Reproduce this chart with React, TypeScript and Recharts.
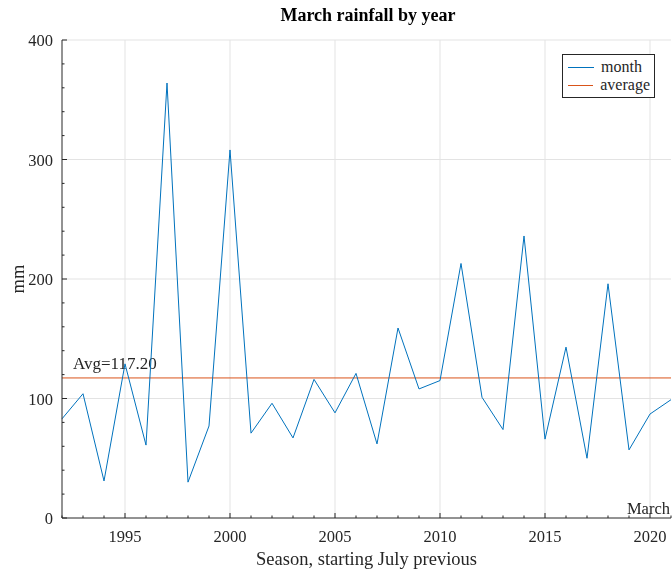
import React from "react";
import {
  LineChart, Line, XAxis, YAxis, CartesianGrid, ReferenceLine, Label,
} from "recharts";

const BLUE = "#0072BD";
const ORANGE = "#D95319";
const INK = "#262626";
const FONT = "'Liberation Serif', 'Times New Roman', serif";

const YEARS = [
  1992, 1993, 1994, 1995, 1996, 1997, 1998, 1999, 2000, 2001,
  2002, 2003, 2004, 2005, 2006, 2007, 2008, 2009, 2010, 2011,
  2012, 2013, 2014, 2015, 2016, 2017, 2018, 2019, 2020, 2021,
];
const RAINFALL = [
  83, 104, 31, 129, 61, 364, 30, 77, 308, 71,
  96, 67, 116, 88, 121, 62, 159, 108, 115, 213,
  101, 74, 236, 66, 143, 50, 196, 57, 87, 99,
];
const AVERAGE = 117.2;
const X_TICKS = YEARS;
const Y_TICKS = [0, 20, 40, 60, 80, 100, 120, 140, 160, 180, 200, 220, 240, 260, 280, 300, 320, 340, 360, 380, 400];
const X_GRID = [1995, 2000, 2005, 2010, 2015, 2020];
const Y_GRID = [100, 200, 300, 400];

const data = YEARS.map((year, i) => ({ year, month: RAINFALL[i], average: AVERAGE }));

function XTick({ x, y, payload, side }: any) {
  const major = payload.value % 5 === 0;
  const len = major ? 5 : 2.5;
  const dir = side === "top" ? 1 : -1;
  return (
    <g>
      <line x1={x} y1={y} x2={x} y2={y + dir * len} stroke={INK} strokeWidth={1} />
      {side === "bottom" && major && (
        <text x={x} y={y + 24} textAnchor="middle" fill={INK} fontSize={16.5} fontFamily={FONT}>
          {payload.value}
        </text>
      )}
    </g>
  );
}

function YTick({ x, y, payload, side }: any) {
  const major = payload.value % 100 === 0;
  const len = major ? 5 : 2.5;
  const dir = side === "left" ? 1 : -1;
  return (
    <g>
      <line x1={x} y1={y} x2={x + dir * len} y2={y} stroke={INK} strokeWidth={1} />
      {side === "left" && major && (
        <text x={x - 9} y={y + 6} textAnchor="end" fill={INK} fontSize={16.5} fontFamily={FONT}>
          {payload.value}
        </text>
      )}
    </g>
  );
}

function LegendBox() {
  const row = (color: string, label: string) => (
    <div style={{ display: "flex", alignItems: "center", height: 18 }}>
      <div style={{ width: 26, height: 0, borderTop: `1px solid ${color}`, marginRight: 7 }} />
      <span>{label}</span>
    </div>
  );
  return (
    <div style={{
      position: "absolute", left: 562, top: 54, boxSizing: "border-box",
      border: `1px solid ${INK}`, background: "#fff", padding: "3px 4px 3px 5px",
      fontFamily: FONT, fontSize: 16, color: INK, width: 93, lineHeight: "18px",
    }}>
      {row(BLUE, "month")}
      {row(ORANGE, "average")}
    </div>
  );
}

export default function App() {
  return (
    <div style={{ position: "fixed", left: 0, top: 0, width: 672, height: 578, background: "#fff", fontFamily: FONT }}>
      <div style={{
        position: "absolute", top: 5, left: 0, width: 736, textAlign: "center",
        fontWeight: "bold", fontSize: 18, color: "#000",
      }}>
        March rainfall by year
      </div>
      <LineChart width={672} height={578} data={data} margin={{ top: 40, right: 1, bottom: 0, left: 0 }}>
        <CartesianGrid stroke="#e3e3e3" strokeWidth={1}
          horizontalValues={Y_GRID} verticalValues={X_GRID} xAxisId="bottom" yAxisId="left" />
        <XAxis xAxisId="bottom" dataKey="year" type="number" domain={[1992, 2021]} ticks={X_TICKS}
          height={60} tickSize={0} tickMargin={0} interval={0} axisLine={{ stroke: INK }}
          tick={(p: any) => <XTick {...p} side="bottom" />}>
          <Label content={({ viewBox }: any) => (
            <text x={viewBox.x + viewBox.width / 2} y={viewBox.y + 47} textAnchor="middle"
              fill={INK} fontSize={18.5} fontFamily={FONT}>Season, starting July previous</text>
          )} />
        </XAxis>
        <XAxis xAxisId="top" orientation="top" dataKey="year" type="number" domain={[1992, 2021]} ticks={X_TICKS}
          height={0} tickSize={0} tickMargin={0} interval={0} axisLine={{ stroke: INK }}
          tick={(p: any) => <XTick {...p} side="top" />} />
        <YAxis yAxisId="left" type="number" domain={[0, 400]} ticks={Y_TICKS} width={62}
          tickSize={0} tickMargin={0} interval={0} axisLine={{ stroke: INK }}
          tick={(p: any) => <YTick {...p} side="left" />}>
          <Label content={({ viewBox }: any) => (
            <text x={viewBox.x + 24} y={viewBox.y + viewBox.height / 2} textAnchor="middle"
              transform={`rotate(-90 ${viewBox.x + 24} ${viewBox.y + viewBox.height / 2})`}
              fill={INK} fontSize={18.5} fontFamily={FONT}>mm</text>
          )} />
        </YAxis>
        <YAxis yAxisId="right" orientation="right" type="number" domain={[0, 400]} ticks={Y_TICKS} width={0}
          tickSize={0} tickMargin={0} interval={0} axisLine={{ stroke: INK }}
          tick={(p: any) => <YTick {...p} side="right" />} />
        <ReferenceLine xAxisId="bottom" yAxisId="left" y={AVERAGE} stroke={ORANGE} strokeWidth={1}
          label={({ viewBox }: any) => (
            <text x={viewBox.x + 11} y={viewBox.y - 9} fill={INK} fontSize={17} fontFamily={FONT}>
              Avg=117.20
            </text>
          )} />
        <ReferenceLine xAxisId="bottom" yAxisId="left" y={0} strokeOpacity={0}
          label={({ viewBox }: any) => (
            <text x={viewBox.x + viewBox.width - 1} y={viewBox.y - 4} textAnchor="end" fill={INK} fontSize={16.5} fontFamily={FONT}>
              March
            </text>
          )} />
        <Line xAxisId="bottom" yAxisId="left" type="linear" dataKey="month" stroke={BLUE} strokeWidth={1}
          dot={false} isAnimationActive={false} />
      </LineChart>
      <LegendBox />
    </div>
  );
}
